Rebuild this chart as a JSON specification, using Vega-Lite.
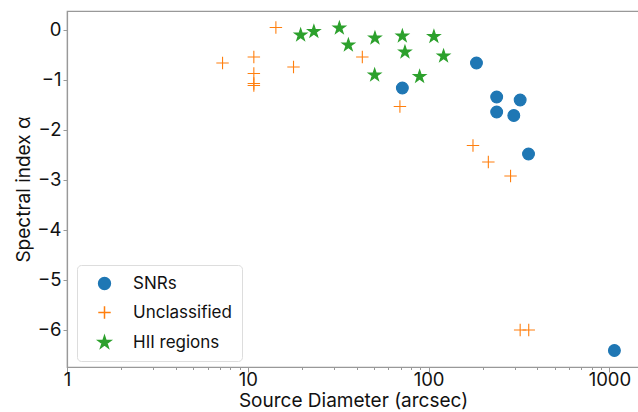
{
  "$schema": "https://vega.github.io/schema/vega-lite/v6.json",
  "width": 572,
  "height": 356,
  "autosize": "none",
  "padding": {"left": 67, "top": 11, "right": 0, "bottom": 45},
  "background": "white",
  "config": {
    "font": "Inter",
    "view": {"stroke": "#999", "strokeWidth": 1.2},
    "axis": {"grid": false, "domainColor": "#999", "domainWidth": 1.2, "tickColor": "#999", "labelColor": "#111", "titleColor": "#111", "labelFontSize": 18.5, "titleFontSize": 19, "titleFontWeight": "normal", "labelFont": "Inter", "titleFont": "Inter"}
  },
  "data": {
    "values": [
      {"d": 71.6, "a": -1.17, "type": "SNRs"},
      {"d": 184, "a": -0.67, "type": "SNRs"},
      {"d": 238, "a": -1.35, "type": "SNRs"},
      {"d": 238, "a": -1.65, "type": "SNRs"},
      {"d": 321, "a": -1.41, "type": "SNRs"},
      {"d": 296, "a": -1.72, "type": "SNRs"},
      {"d": 357, "a": -2.49, "type": "SNRs"},
      {"d": 1066, "a": -6.42, "type": "SNRs"},
      {"d": 7.25, "a": -0.67, "type": "Unclassified"},
      {"d": 10.8, "a": -0.55, "type": "Unclassified"},
      {"d": 10.8, "a": -0.88, "type": "Unclassified"},
      {"d": 10.8, "a": -1.08, "type": "Unclassified"},
      {"d": 10.8, "a": -1.12, "type": "Unclassified"},
      {"d": 14.3, "a": 0.04, "type": "Unclassified"},
      {"d": 17.9, "a": -0.75, "type": "Unclassified"},
      {"d": 43.0, "a": -0.55, "type": "Unclassified"},
      {"d": 69.4, "a": -1.54, "type": "Unclassified"},
      {"d": 176, "a": -2.32, "type": "Unclassified"},
      {"d": 214, "a": -2.65, "type": "Unclassified"},
      {"d": 284, "a": -2.93, "type": "Unclassified"},
      {"d": 321, "a": -6.01, "type": "Unclassified"},
      {"d": 358, "a": -6.01, "type": "Unclassified"},
      {"d": 19.6, "a": -0.11, "type": "HII regions"},
      {"d": 23.2, "a": -0.04, "type": "HII regions"},
      {"d": 32.1, "a": 0.03, "type": "HII regions"},
      {"d": 36.0, "a": -0.31, "type": "HII regions"},
      {"d": 50.5, "a": -0.17, "type": "HII regions"},
      {"d": 50.3, "a": -0.91, "type": "HII regions"},
      {"d": 71.6, "a": -0.13, "type": "HII regions"},
      {"d": 74.0, "a": -0.45, "type": "HII regions"},
      {"d": 89.2, "a": -0.94, "type": "HII regions"},
      {"d": 107, "a": -0.14, "type": "HII regions"},
      {"d": 121, "a": -0.53, "type": "HII regions"}
    ]
  },
  "mark": {"type": "point", "opacity": 1, "strokeWidth": 1.1},
  "encoding": {
    "x": {
      "field": "d", "type": "quantitative",
      "scale": {"type": "log", "domain": [1, 1458], "nice": false},
      "axis": {
        "title": "Source Diameter (arcsec)",
        "values": [1,2,3,4,5,6,7,8,9,10,20,30,40,50,60,70,80,90,100,200,300,400,500,600,700,800,900,1000],
        "labelExpr": "indexof([1,10,100,1000], datum.value) >= 0 ? '' + datum.value : ''",
        "tickSize": {"condition": {"test": "indexof([1,10,100,1000], datum.value) >= 0", "value": 5}, "value": 2.5},
        "labelOverlap": false, "labelFlush": false, "labelPadding": -2, "titlePadding": 3
      }
    },
    "y": {
      "field": "a", "type": "quantitative",
      "scale": {"domain": [-6.75, 0.37], "nice": false, "zero": false},
      "axis": {"title": "Spectral index α", "values": [0,-1,-2,-3,-4,-5,-6], "tickSize": 4, "labelPadding": 2, "titlePadding": 3}
    },
    "shape": {
      "field": "type", "type": "nominal",
      "scale": {"domain": ["SNRs", "Unclassified", "HII regions"], "range": ["circle", "M-1,0L1,0M0,-1L0,1", "M0,-1L0.225,-0.309L0.951,-0.309L0.363,0.118L0.588,0.809L0,0.382L-0.588,0.809L-0.363,0.118L-0.951,-0.309L-0.225,-0.309Z"]},
      "legend": {"title": null, "orient": "none", "legendX": 10, "legendY": 254, "padding": 10, "symbolOffset": 9, "labelOffset": 20, "labelFontSize": 17, "labelFont": "Inter", "rowPadding": 10, "fillColor": "white", "strokeColor": "#ddd", "cornerRadius": 4, "labelColor": "#111", "labelExpr": "datum.label + '\u00a0\u00a0\u00a0'"}
    },
    "fill": {
      "field": "type", "type": "nominal",
      "scale": {"domain": ["SNRs", "Unclassified", "HII regions"], "range": ["#1f77b4", "transparent", "#2ca02c"]},
      "legend": {"title": null, "orient": "none", "legendX": 10, "legendY": 254, "padding": 10, "symbolOffset": 9, "labelOffset": 20, "labelFontSize": 17, "labelFont": "Inter", "rowPadding": 10, "fillColor": "white", "strokeColor": "#ddd", "cornerRadius": 4, "labelColor": "#111", "labelExpr": "datum.label + '\u00a0\u00a0\u00a0'"}
    },
    "stroke": {
      "field": "type", "type": "nominal",
      "scale": {"domain": ["SNRs", "Unclassified", "HII regions"], "range": ["#1f77b4", "#ff7f0e", "#2ca02c"]},
      "legend": {"title": null, "orient": "none", "legendX": 10, "legendY": 254, "padding": 10, "symbolOffset": 9, "labelOffset": 20, "labelFontSize": 17, "labelFont": "Inter", "rowPadding": 10, "fillColor": "white", "strokeColor": "#ddd", "cornerRadius": 4, "labelColor": "#111", "labelExpr": "datum.label + '\u00a0\u00a0\u00a0'"}
    },
    "size": {
      "field": "type", "type": "nominal",
      "scale": {"domain": ["SNRs", "Unclassified", "HII regions"], "range": [140, 170, 165]},
      "legend": {"title": null, "orient": "none", "legendX": 10, "legendY": 254, "padding": 10, "symbolOffset": 9, "labelOffset": 20, "labelFontSize": 17, "labelFont": "Inter", "rowPadding": 10, "fillColor": "white", "strokeColor": "#ddd", "cornerRadius": 4, "labelColor": "#111", "labelExpr": "datum.label + '\u00a0\u00a0\u00a0'"}
    }
  }
}
